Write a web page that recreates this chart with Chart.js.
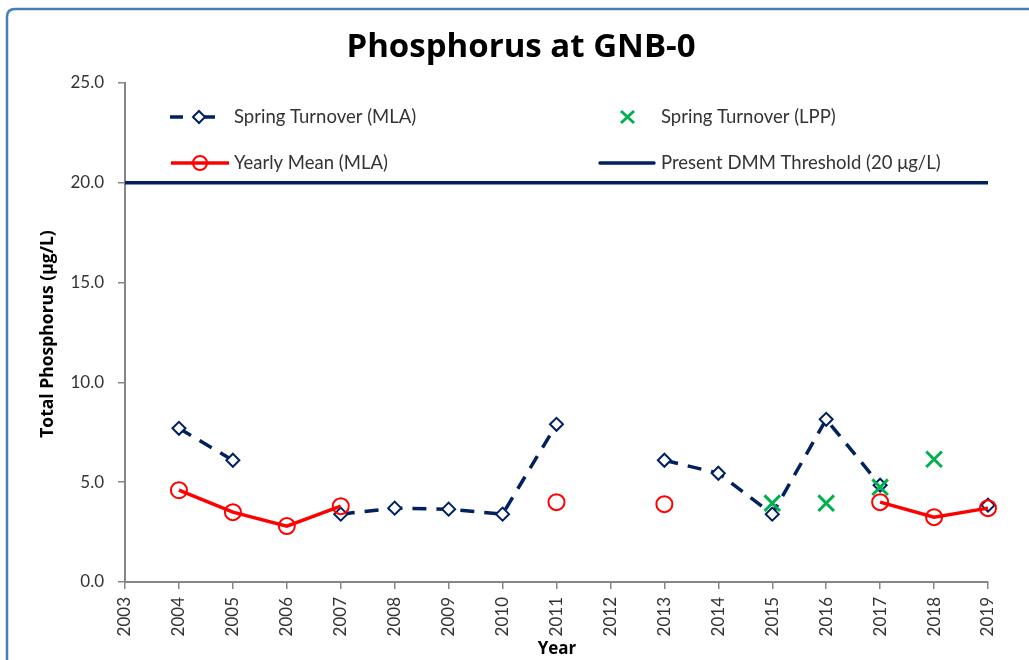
<!DOCTYPE html>
<html><head><meta charset="utf-8">
<script src="https://cdn.jsdelivr.net/npm/chart.js@4/dist/chart.umd.min.js"></script>
<style>html,body{margin:0;padding:0;background:#fff;}#wrap{width:1029px;height:660px;position:relative;}</style>
</head><body><div id="wrap"><canvas id="c" width="1029" height="660"></canvas></div>
<script>
const years = ['2003','2004','2005','2006','2007','2008','2009','2010','2011','2012','2013','2014','2015','2016','2017','2018','2019'];
const springMLA = [null,7.7,6.1,null,3.4,3.7,3.65,3.4,7.9,null,6.1,5.45,3.4,8.15,4.85,null,3.85];
const yearlyMean = [null,4.6,3.5,2.8,3.8,null,null,null,4.0,null,3.9,null,null,null,4.0,3.25,3.7];
const springLPP = [null,null,null,null,null,null,null,null,null,null,null,null,3.95,3.95,4.75,6.15,null];
const threshold = [20,20,20,20,20,20,20,20,20,20,20,20,20,20,20,20,20];
const yTicks = [0,5,10,15,20,25];

const NAVY = '#002060', RED = '#ff0000', GREEN = '#00b050', TXT = '#333333', AX = '#868686';
const FONT = 'Lato, "Open Sans", sans-serif';
const BFONT = '"Open Sans", Lato, sans-serif';

const decor = {
  id: 'decor',
  beforeDraw(chart) {
    const ctx = chart.ctx;
    ctx.save();
    ctx.fillStyle = '#fff';
    ctx.fillRect(0, 0, chart.width, chart.height);
    ctx.strokeStyle = '#4a7ebb';
    ctx.lineWidth = 2.5;
    const x = 7, y = 9, w = 1040, h = 680, r = 8;
    ctx.beginPath();
    ctx.moveTo(x + r, y); ctx.lineTo(x + w, y); ctx.lineTo(x + w, y + h);
    ctx.lineTo(x, y + h); ctx.lineTo(x, y + r); ctx.quadraticCurveTo(x, y, x + r, y);
    ctx.stroke();
    ctx.restore();
  },
  afterDraw(chart) {
    const ctx = chart.ctx;
    ctx.save();
    // title
    ctx.fillStyle = '#000';
    ctx.font = 'bold 33px ' + BFONT;
    ctx.textAlign = 'center'; ctx.textBaseline = 'middle';
    ctx.fillText('Phosphorus at GNB-0', 521, 48);
    // axis titles
    ctx.font = 'bold 17px ' + BFONT;
    ctx.fillText('Year', 557, 649);
    ctx.save();
    ctx.translate(48, 334); ctx.rotate(-Math.PI / 2);
    ctx.font = 'bold 17.5px ' + BFONT;
    ctx.fillText('Total Phosphorus (\u03bcg/L)', 0, 0);
    ctx.restore();
    // legend
    ctx.font = '18.5px ' + FONT;
    ctx.fillStyle = TXT; ctx.textAlign = 'left';
    // row 1 col 1
    let ly = 117;
    ctx.strokeStyle = NAVY; ctx.lineWidth = 3.5; ctx.lineCap = 'butt';
    ctx.beginPath(); ctx.moveTo(170, ly); ctx.lineTo(183, ly); ctx.moveTo(193, ly); ctx.lineTo(215, ly); ctx.stroke();
    ctx.lineWidth = 2; ctx.fillStyle = '#fff';
    ctx.beginPath(); ctx.moveTo(199, ly - 6); ctx.lineTo(205, ly); ctx.lineTo(199, ly + 6); ctx.lineTo(193, ly); ctx.closePath(); ctx.fill(); ctx.stroke();
    ctx.fillStyle = TXT;
    ctx.fillText('Spring Turnover (MLA)', 234, ly);
    // row 1 col 2
    ctx.strokeStyle = GREEN; ctx.lineWidth = 3;
    ctx.beginPath(); ctx.moveTo(621, ly - 6); ctx.lineTo(634, ly + 6); ctx.moveTo(634, ly - 6); ctx.lineTo(621, ly + 6); ctx.stroke();
    ctx.fillText('Spring Turnover (LPP)', 661, ly);
    // row 2 col 1
    ly = 163;
    ctx.strokeStyle = RED; ctx.lineWidth = 3.5;
    ctx.beginPath(); ctx.moveTo(171, ly); ctx.lineTo(229, ly); ctx.stroke();
    ctx.lineWidth = 2;
    ctx.beginPath(); ctx.arc(200, ly, 7, 0, Math.PI * 2); ctx.stroke();
    ctx.fillText('Yearly Mean (MLA)', 234, ly);
    // row 2 col 2
    ctx.strokeStyle = NAVY; ctx.lineWidth = 3.5; ctx.lineCap = 'round';
    ctx.beginPath(); ctx.moveTo(600, ly); ctx.lineTo(654, ly); ctx.stroke();
    ctx.fillText('Present DMM Threshold (20 \u03bcg/L)', 661, ly);
    ctx.restore();
  }
};

new Chart(document.getElementById('c'), {
  type: 'line',
  data: {
    labels: years,
    datasets: [
      { label: 'Present DMM Threshold (20 \u03bcg/L)', data: threshold, borderColor: NAVY, borderWidth: 3.5, pointRadius: 0, order: 5 },
      { label: 'Spring Turnover (MLA)', data: springMLA, borderColor: NAVY, borderWidth: 3.5, borderDash: [14, 10],
        pointStyle: 'rectRot', pointRadius: 6.5, pointBorderWidth: 2, pointBackgroundColor: '#fff', pointBorderColor: NAVY, spanGaps: false, order: 3 },
      { label: 'Yearly Mean (MLA)', data: yearlyMean, borderColor: RED, borderWidth: 3.5,
        pointStyle: 'circle', pointRadius: 8, pointBorderWidth: 2, pointBackgroundColor: 'rgba(0,0,0,0)', pointBorderColor: RED, spanGaps: false, order: 2 },
      { label: 'Spring Turnover (LPP)', data: springLPP, showLine: false, borderColor: GREEN,
        pointStyle: 'crossRot', pointRadius: 11, pointBorderWidth: 3, pointBorderColor: GREEN, order: 1 }
    ]
  },
  options: {
    responsive: false, animation: false,
    layout: { padding: { left: 0, top: 83, right: 41, bottom: 0 } },
    plugins: { legend: { display: false }, title: { display: false }, tooltip: { enabled: false } },
    scales: {
      x: {
        type: 'category', offset: false,
        grid: { display: true, drawOnChartArea: false, tickLength: 7, color: AX, lineWidth: 1.5 },
        border: { color: AX, width: 2 },
        ticks: { color: TXT, font: { family: FONT, size: 17 }, minRotation: 90, maxRotation: 90, autoSkip: false, padding: 8 },
        afterFit(s) { s.height = 78; }
      },
      y: {
        min: 0, max: 25,
        afterBuildTicks(s) { s.ticks = yTicks.map(v => ({ value: v })); },
        grid: { display: true, drawOnChartArea: false, tickLength: 7, color: AX, lineWidth: 1.5 },
        border: { color: AX, width: 2 },
        ticks: { color: TXT, font: { family: FONT, size: 17 }, padding: 14, callback: v => Number(v).toFixed(1) },
        afterFit(s) { s.width = 125; }
      }
    }
  },
  plugins: [decor]
});
</script></body></html>
